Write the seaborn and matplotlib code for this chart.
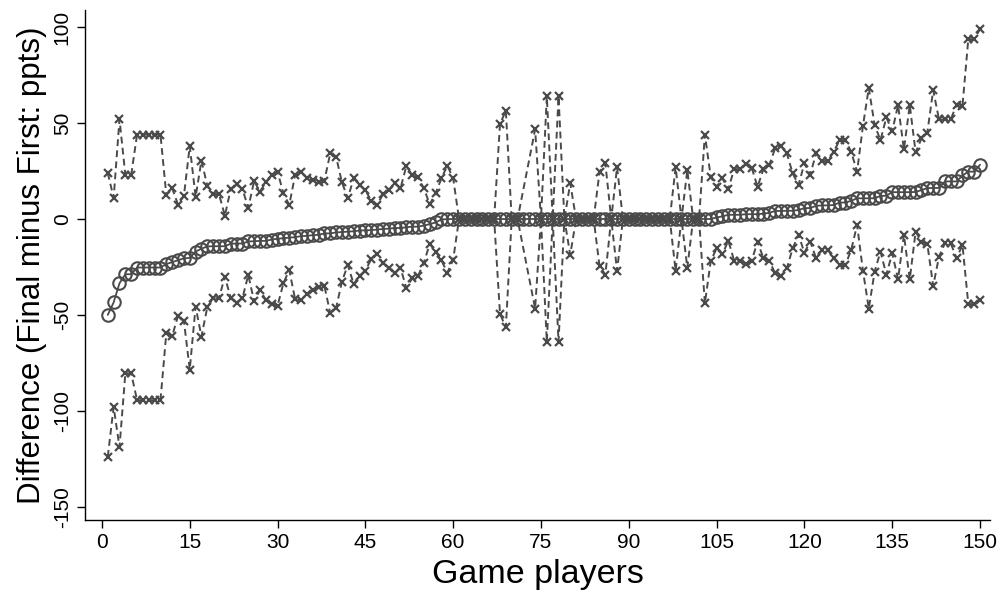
import numpy as np
import pandas as pd
import seaborn as sns
import matplotlib.pyplot as plt

# === Data ===
players = list(range(1, 151))

estimate = [
    -50.0, -43.5, -33.5, -28.8, -28.8, -25.3, -25.3, -25.3, -25.3, -25.3,
    -23.5, -22.5, -21.5, -20.5, -20.3, -17.0, -15.5, -14.3, -14.2, -14.2,
    -14.2, -12.9, -12.8, -12.8, -11.7, -11.6, -11.4, -11.4, -10.7, -10.3,
    -10.0, -9.7, -9.5, -8.9, -8.8, -8.4, -8.3, -7.5, -7.5, -7.0,
    -6.8, -6.6, -6.4, -6.0, -5.9, -5.8, -5.5, -5.2, -5.0, -4.7,
    -4.7, -4.3, -4.0, -4.0, -3.4, -2.7, -1.8, -0.2, -0.1, 0.0,
    0.0, 0.0, 0.0, 0.0, 0.0, 0.0, 0.0, 0.0, 0.0, 0.0,
    0.0, 0.0, 0.0, 0.0, 0.0, 0.0, 0.0, 0.0, 0.0, 0.0,
    0.0, 0.0, 0.0, 0.0, 0.0, 0.0, 0.0, 0.0, 0.0, 0.0,
    0.0, 0.0, 0.0, 0.0, 0.0, 0.0, 0.0, 0.0, 0.0, 0.0,
    0.0, 0.0, 0.0, 0.0, 0.8, 1.4, 2.2, 2.2, 2.2, 2.5,
    2.5, 2.5, 2.8, 3.2, 4.2, 4.2, 4.3, 4.3, 4.7, 5.7,
    5.7, 6.9, 7.1, 7.1, 7.3, 8.6, 8.6, 9.5, 10.8, 10.8,
    10.8, 10.8, 12.1, 12.1, 14.0, 14.0, 14.0, 14.0, 14.1, 15.1,
    16.1, 16.2, 16.2, 19.6, 19.6, 19.6, 22.7, 24.7, 24.7, 28.3,
]

# None = no interval reported for that player (line is joined across it)
upper = [
    24.0, 11.0, 52.0, 23.0, 23.0, 44.0, 44.0, 44.0, 44.0, 44.0,
    12.5, 16.0, 7.5, 12.0, 38.0, 11.6, 30.4, 17.4, 13.0, 13.0,
    1.7, 15.6, 18.0, 15.6, 5.9, 19.8, 14.2, 19.3, 22.9, 24.7,
    13.4, 7.3, 22.9, 24.7, 21.5, 20.3, 19.1, 20.0, 34.2, 32.5,
    19.1, 10.8, 21.2, 17.7, 15.1, 9.5, 7.3, 12.8, 15.3, 18.6,
    16.0, 27.6, 22.9, 21.7, 16.0, 7.6, 13.4, 21.2, 27.8, 21.3,
    0.0, 0.0, 0.0, 0.0, 0.0, 0.0, 0.0, 49.5, 56.5, 0.0,
    0.0, None, None, 46.7, 0.0, 64.0, 0.0, 64.0, 0.0, 18.7,
    0.0, 0.0, 0.0, 0.0, 24.5, 29.0, 0.0, 27.0, 0.0, 0.0,
    0.0, 0.0, 0.0, 0.0, 0.0, 0.0, 0.0, 27.0, 0.0, 25.5,
    0.0, 0.0, 44.0, 22.0, 16.8, 21.2, 15.6, 26.0, 26.0, 28.5,
    26.7, 16.8, 26.0, 28.1, 36.8, 38.0, 34.2, 23.8, 17.7, 29.0,
    23.2, 34.2, 30.2, 30.2, 35.0, 41.1, 41.1, 35.0, 24.7, 48.5,
    68.3, 49.0, 41.1, 53.0, 45.8, 59.4, 36.3, 59.4, 34.7, 42.0,
    45.1, 67.2, 51.9, 51.9, 51.9, 59.7, 58.9, 93.8, 93.8, 99.0,
]

lower = [
    -124.0, -98.0, -119.0, -80.5, -80.5, -94.5, -94.5, -94.5, -94.5, -94.5,
    -59.5, -61.0, -50.5, -53.0, -78.5, -45.7, -61.3, -46.0, -41.3, -41.3,
    -30.0, -41.3, -43.6, -41.3, -29.2, -43.0, -37.0, -42.2, -44.3, -45.3,
    -33.5, -26.6, -41.8, -42.5, -39.0, -37.0, -35.6, -34.9, -49.1, -46.5,
    -32.6, -24.0, -33.9, -29.7, -26.9, -21.0, -18.2, -23.1, -25.4, -28.0,
    -25.4, -36.1, -30.9, -29.7, -22.7, -13.0, -17.0, -21.6, -28.0, -21.3,
    0.0, 0.0, 0.0, 0.0, 0.0, 0.0, 0.0, -49.5, -56.5, 0.0,
    0.0, None, None, -46.7, 0.0, -64.0, 0.0, -64.0, 0.0, -18.7,
    0.0, 0.0, 0.0, 0.0, -24.5, -29.0, 0.0, -27.0, 0.0, 0.0,
    0.0, 0.0, 0.0, 0.0, 0.0, 0.0, 0.0, -27.0, 0.0, -25.5,
    0.0, 0.0, -44.0, -22.0, -15.3, -18.4, -11.3, -21.7, -21.7, -23.4,
    -21.7, -11.8, -20.5, -21.7, -28.3, -29.7, -25.7, -15.3, -8.3, -17.5,
    -11.8, -20.5, -16.1, -16.1, -20.5, -24.0, -24.0, -16.1, -3.1, -26.9,
    -46.7, -27.4, -17.0, -29.0, -17.9, -31.4, -8.3, -31.4, -6.6, -11.8,
    -13.0, -34.9, -19.6, -12.7, -12.7, -20.5, -13.5, -44.4, -44.4, -42.5,
]

x_ticks = [0, 15, 30, 45, 60, 75, 90, 105, 120, 135, 150]
y_ticks = [-150, -100, -50, 0, 50, 100]

df = pd.DataFrame({"player": players, "estimate": estimate,
                   "upper": upper, "lower": lower}).astype(float)

# === Plot
sns.set_style("ticks")
plt.rcParams["font.family"] = ["Liberation Sans", "DejaVu Sans"]
plt.rcParams["axes.unicode_minus"] = False

fig = plt.figure(figsize=(10.03, 6.0), dpi=100)
ax = fig.add_axes([0.0847, 0.1333, 0.9023, 0.85])

grey = "#4a4a4a"
dash = (0, (3.5, 2.2))

for col in ["upper", "lower"]:
    sub = df[["player", col]].dropna()
    sns.lineplot(data=sub, x="player", y=col, ax=ax, color=grey, lw=1.4,
                 linestyle=dash, marker="x", markersize=6, mew=1.6,
                 mec=grey)

sns.lineplot(data=df, x="player", y="estimate", ax=ax, color=grey, lw=1.3,
             marker="o", markersize=9, mfc="none", mec=grey, mew=1.5)

ax.set_xlim(-2.9, 151.7)
ax.set_ylim(-157, 109)
ax.set_xticks(x_ticks)
ax.set_yticks(y_ticks)
ax.tick_params(axis="both", direction="out", length=6, width=1.0,
               labelsize=15, colors="black", labelcolor="black")
for lab in ax.get_yticklabels():
    lab.set_rotation(90)
    lab.set_va("center")

ax.set_xlabel("Game players", fontsize=24.5, labelpad=5, color="black")
ax.set_ylabel("Difference (Final minus First: ppts)", fontsize=22.5,
              labelpad=4, color="black")

sns.despine(ax=ax)
for s in ["left", "bottom"]:
    ax.spines[s].set_color("black")
    ax.spines[s].set_linewidth(1.0)

fig.savefig("out.png", dpi=100)
